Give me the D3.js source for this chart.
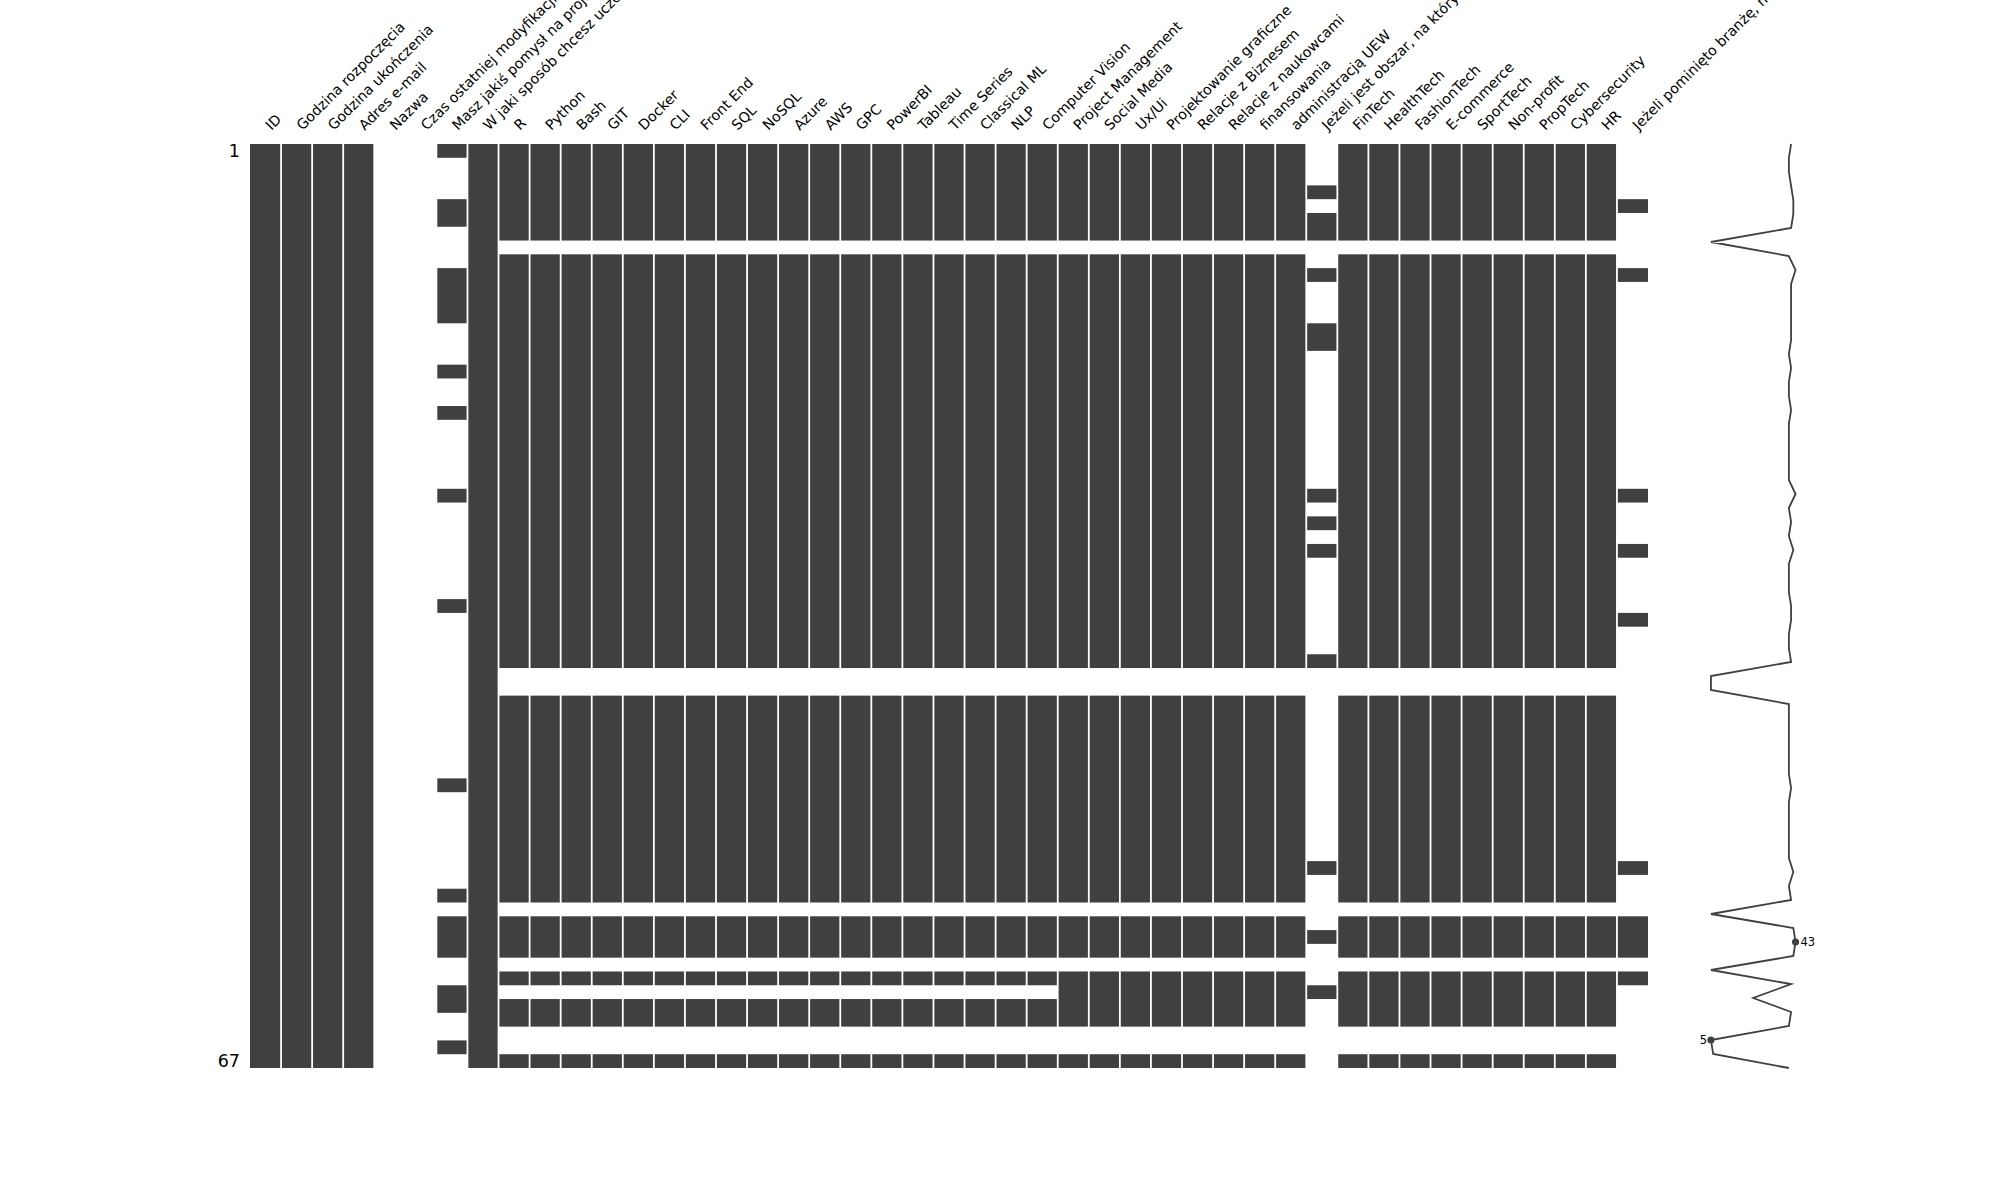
<!DOCTYPE html>
<html>
<head>
<meta charset="utf-8">
<script src="https://cdn.jsdelivr.net/npm/d3@7"></script>
<style>
  html, body { margin: 0; padding: 0; background: #fff; }
  svg { display: block; font-family: "DejaVu Sans", sans-serif; }
</style>
</head>
<body>
<svg id="chart" width="2000" height="1200"></svg>
<script>
// ---- data ----
const columns = [
  "ID", "Godzina rozpoczęcia", "Godzina ukończenia", "Adres e-mail", "Nazwa",
  "Czas ostatniej modyfikacji", "Masz jakiś pomysł na projekt, który chcesz zrealizować?",
  "W jaki sposób chcesz uczestniczyć w projektach?",
  "R", "Python", "Bash", "GIT", "Docker", "CLI", "Front End", "SQL", "NoSQL", "Azure",
  "AWS", "GPC", "PowerBI", "Tableau", "Time Series", "Classical ML", "NLP", "Computer Vision",
  "Project Management", "Social Media", "Ux/Ui", "Projektowanie graficzne", "Relacje z Biznesem",
  "Relacje z naukowcami", "finansowania", "administracją UEW",
  "Jeżeli jest obszar, na który chcesz się skupić, wpisz go tutaj",
  "FinTech", "HealthTech", "FashionTech", "E-commerce", "SportTech", "Non-profit", "PropTech",
  "Cybersecurity", "HR", "Jeżeli pominięto branżę, na której Ci zależy, wpisz ją tutaj"
];
const rowCount = 67;
const rowTickLabels = ["1", "67"];

// present (non-null) row ranges, inclusive, 0-based
const fullRows   = [[0, 66]];
const emptyRows  = [];
const ideaRows   = [[0,0],[4,5],[9,12],[16,16],[19,19],[25,25],[33,33],[46,46],[54,54],[56,58],[61,62],[65,65]];
const techRows   = [[0,6],[8,37],[40,54],[56,58],[60,60],[62,63],[66,66]];
const softRows   = [[0,6],[8,37],[40,54],[56,58],[60,63],[66,66]];
const areaRows   = [[3,3],[5,6],[9,9],[13,14],[25,25],[27,27],[29,29],[37,37],[52,52],[57,57],[61,61]];
const sectorRows = [[0,6],[8,37],[40,54],[56,58],[60,63],[66,66]];
const otherRows  = [[4,4],[9,9],[25,25],[29,29],[34,34],[52,52],[56,58],[60,60]];

// pattern used by each column (same order as columns)
const columnPatterns = [
  fullRows, fullRows, fullRows, fullRows, emptyRows, emptyRows, ideaRows, fullRows,
  techRows, techRows, techRows, techRows, techRows, techRows, techRows, techRows, techRows, techRows,
  techRows, techRows, techRows, techRows, techRows, techRows, techRows, techRows,
  softRows, softRows, softRows, softRows, softRows, softRows, softRows, softRows,
  areaRows,
  sectorRows, sectorRows, sectorRows, sectorRows, sectorRows, sectorRows, sectorRows, sectorRows, sectorRows,
  otherRows
];

// ---- drawing ----
const fill = "#404040";
const svg = d3.select("#chart");

const x = d3.scaleBand().domain(columns).range([250, 1648]).padding(0);
const y = d3.scaleLinear().domain([0, rowCount]).range([144, 1068]);

const cells = [];
columns.forEach((c, i) => {
  columnPatterns[i].forEach(([a, b]) => cells.push({ col: c, a, b }));
});

svg.append("g").selectAll("rect").data(cells).join("rect")
  .attr("x", d => x(d.col))
  .attr("y", d => y(d.a))
  .attr("width", x.bandwidth())
  .attr("height", d => y(d.b + 1) - y(d.a))
  .attr("fill", fill);

// white separators between columns
svg.append("g").selectAll("line").data(columns.slice(1)).join("line")
  .attr("x1", d => x(d)).attr("x2", d => x(d))
  .attr("y1", y(0)).attr("y2", y(rowCount))
  .attr("stroke", "#fff").attr("stroke-width", 1.8);

// column labels
svg.append("g").selectAll("text").data(columns).join("text")
  .attr("transform", d => `translate(${x(d) + x.bandwidth() / 2 + 6},131) rotate(-45)`)
  .attr("font-size", 14.2)
  .attr("fill", "#000")
  .text(d => d);

// row labels
svg.append("g").selectAll("text").data(rowTickLabels).join("text")
  .attr("x", 240)
  .attr("y", (d, i) => i === 0 ? y(0.5) : y(rowCount - 0.5))
  .attr("dy", "0.36em")
  .attr("text-anchor", "end")
  .attr("font-size", 17.5)
  .attr("fill", "#000")
  .text(d => d);

// sparkline: completeness per row
const completeness = d3.range(rowCount).map(r =>
  columnPatterns.reduce((s, p) => s + (p.some(([a, b]) => r >= a && r <= b) ? 1 : 0), 0));
const minC = d3.min(completeness), maxC = d3.max(completeness);
const sx = d3.scaleLinear().domain([minC - 2, maxC + 2]).range([1706.5, 1800]);
const sy = d3.scaleLinear().domain([0, rowCount - 1]).range([144, 1068]);

svg.append("path")
  .datum(completeness)
  .attr("d", d3.line().x(d => sx(d)).y((d, i) => sy(i)))
  .attr("fill", "none")
  .attr("stroke", fill)
  .attr("stroke-width", 1.8)
  .attr("stroke-linejoin", "miter");

// min/max markers: first occurrence counted from bottom
const rev = completeness.slice().reverse();
const minIdx = rowCount - 1 - rev.indexOf(minC);
const maxIdx = rowCount - 1 - rev.indexOf(maxC);
[[minC, minIdx, "end"], [maxC, maxIdx, "start"]].forEach(([v, r, anchor]) => {
  svg.append("circle").attr("cx", sx(v)).attr("cy", sy(r)).attr("r", 3.6).attr("fill", fill);
  svg.append("text")
    .attr("x", sx(anchor === "end" ? v - 2 : v + 2) + 0.5)
    .attr("y", sy(r))
    .attr("dy", "0.36em")
    .attr("text-anchor", anchor)
    .attr("font-size", 11.5)
    .attr("fill", "#000")
    .text(v);
});
</script>
</body>
</html>
